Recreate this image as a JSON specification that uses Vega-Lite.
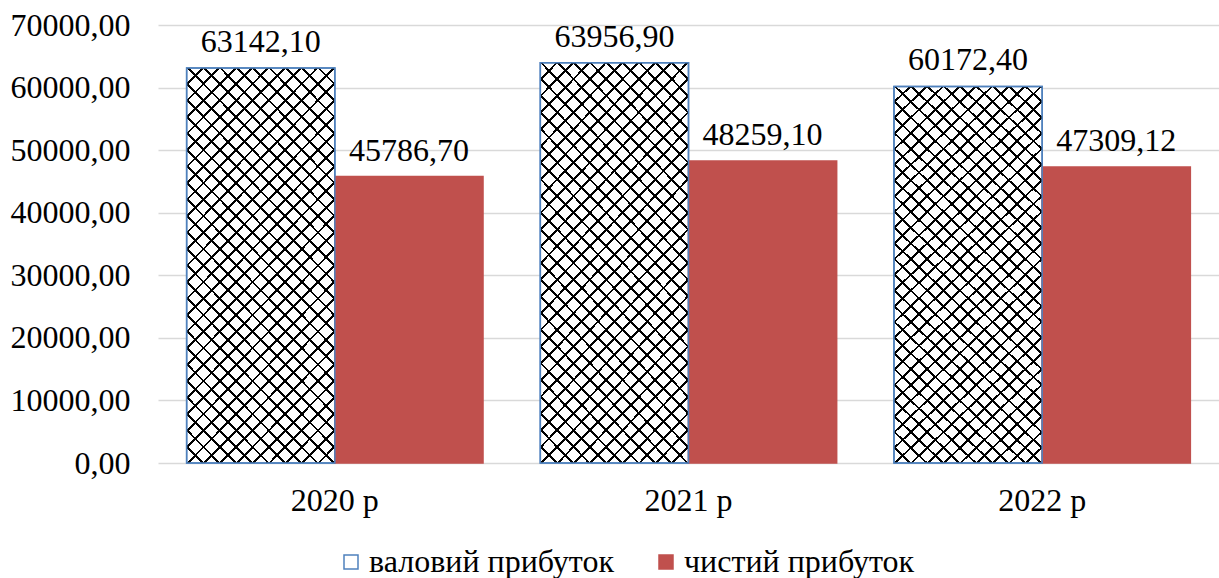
{
  "$schema": "https://vega.github.io/schema/vega-lite/v6.json",
  "width": 1061,
  "height": 438,
  "autosize": {"type": "none"},
  "padding": {"left": 158, "top": 25, "right": 0, "bottom": 115},
  "background": "#ffffff",
  "config": {
    "locale": {"number": {"decimal": ",", "thousands": " ", "grouping": [3], "currency": ["", ""]}},
    "view": {"stroke": null},
    "font": "Liberation Serif",
    "axis": {"labelFont": "Liberation Serif", "labelFontSize": 32, "labelColor": "#000000", "title": null, "domain": false, "ticks": false, "tickSize": 0},
    "legend": {"labelFont": "Liberation Serif", "labelFontSize": 32, "labelColor": "#000000"}
  },
  "data": {
    "values": [
      {"year": "2020 р", "type": "валовий прибуток", "value": 63142.10},
      {"year": "2020 р", "type": "чистий прибуток", "value": 45786.70},
      {"year": "2021 р", "type": "валовий прибуток", "value": 63956.90},
      {"year": "2021 р", "type": "чистий прибуток", "value": 48259.10},
      {"year": "2022 р", "type": "валовий прибуток", "value": 60172.40},
      {"year": "2022 р", "type": "чистий прибуток", "value": 47309.12}
    ]
  },
  "encoding": {
    "x": {
      "field": "year", "type": "nominal",
      "scale": {"domain": ["2020 р", "2021 р", "2022 р"], "paddingInner": 0.162, "paddingOuter": 0.081},
      "axis": {"labelAngle": 0, "labelPadding": 22, "grid": false}
    },
    "xOffset": {
      "field": "type", "type": "nominal",
      "scale": {"domain": ["валовий прибуток", "чистий прибуток"], "paddingInner": 0, "paddingOuter": 0}
    },
    "y": {
      "field": "value", "type": "quantitative",
      "scale": {"domain": [0, 70000], "nice": false},
      "axis": {"values": [0, 10000, 20000, 30000, 40000, 50000, 60000, 70000], "format": ".2f", "grid": true, "gridColor": "#d9d9d9", "gridWidth": 1.5, "labelPadding": 28}
    }
  },
  "layer": [
    {
      "mark": {"type": "bar", "strokeWidth": 1.5},
      "encoding": {
        "color": {
          "field": "type", "type": "nominal",
          "scale": {"domain": ["валовий прибуток", "чистий прибуток"], "range": ["#ffffff", "#C0504D"]},
          "legend": {"title": null, "orient": "none", "legendX": 177, "legendY": 521, "direction": "horizontal", "columns": 2, "columnPadding": 36, "labelOffset": 2, "symbolSize": 196, "symbolType": "square", "symbolStrokeWidth": 1.5, "labelLimit": 400}
        },
        "stroke": {
          "field": "type", "type": "nominal",
          "scale": {"domain": ["валовий прибуток", "чистий прибуток"], "range": ["#4F81BD", "#C0504D"]},
          "legend": {"title": null, "orient": "none", "legendX": 177, "legendY": 521, "direction": "horizontal", "columns": 2, "columnPadding": 36, "labelOffset": 2, "symbolSize": 196, "symbolType": "square", "symbolStrokeWidth": 1.5, "labelLimit": 400}
        }
      }
    },
    {
      "transform": [{"filter": "datum.type === 'валовий прибуток'"}],
      "mark": {"type": "bar", "stroke": null, "fill": {"gradient": "linear", "x1": 0, "y1": 0, "x2": 0.4564, "y2": 1.2058, "stops": [
        {"offset": 0, "color": "#000"}, {"offset": 0.0026, "color": "#000"}, {"offset": 0.0026, "color": "rgba(0,0,0,0)"},
        {"offset": 0.0277, "color": "rgba(0,0,0,0)"}, {"offset": 0.0277, "color": "#000"}, {"offset": 0.0329, "color": "#000"}, {"offset": 0.0329, "color": "rgba(0,0,0,0)"},
        {"offset": 0.0580, "color": "rgba(0,0,0,0)"}, {"offset": 0.0580, "color": "#000"}, {"offset": 0.0632, "color": "#000"}, {"offset": 0.0632, "color": "rgba(0,0,0,0)"},
        {"offset": 0.0883, "color": "rgba(0,0,0,0)"}, {"offset": 0.0883, "color": "#000"}, {"offset": 0.0935, "color": "#000"}, {"offset": 0.0935, "color": "rgba(0,0,0,0)"},
        {"offset": 0.1186, "color": "rgba(0,0,0,0)"}, {"offset": 0.1186, "color": "#000"}, {"offset": 0.1238, "color": "#000"}, {"offset": 0.1238, "color": "rgba(0,0,0,0)"},
        {"offset": 0.1489, "color": "rgba(0,0,0,0)"}, {"offset": 0.1489, "color": "#000"}, {"offset": 0.1541, "color": "#000"}, {"offset": 0.1541, "color": "rgba(0,0,0,0)"},
        {"offset": 0.1792, "color": "rgba(0,0,0,0)"}, {"offset": 0.1792, "color": "#000"}, {"offset": 0.1844, "color": "#000"}, {"offset": 0.1844, "color": "rgba(0,0,0,0)"},
        {"offset": 0.2095, "color": "rgba(0,0,0,0)"}, {"offset": 0.2095, "color": "#000"}, {"offset": 0.2147, "color": "#000"}, {"offset": 0.2147, "color": "rgba(0,0,0,0)"},
        {"offset": 0.2398, "color": "rgba(0,0,0,0)"}, {"offset": 0.2398, "color": "#000"}, {"offset": 0.2450, "color": "#000"}, {"offset": 0.2450, "color": "rgba(0,0,0,0)"},
        {"offset": 0.2701, "color": "rgba(0,0,0,0)"}, {"offset": 0.2701, "color": "#000"}, {"offset": 0.2753, "color": "#000"}, {"offset": 0.2753, "color": "rgba(0,0,0,0)"},
        {"offset": 0.3004, "color": "rgba(0,0,0,0)"}, {"offset": 0.3004, "color": "#000"}, {"offset": 0.3056, "color": "#000"}, {"offset": 0.3056, "color": "rgba(0,0,0,0)"},
        {"offset": 0.3307, "color": "rgba(0,0,0,0)"}, {"offset": 0.3307, "color": "#000"}, {"offset": 0.3359, "color": "#000"}, {"offset": 0.3359, "color": "rgba(0,0,0,0)"},
        {"offset": 0.3610, "color": "rgba(0,0,0,0)"}, {"offset": 0.3610, "color": "#000"}, {"offset": 0.3662, "color": "#000"}, {"offset": 0.3662, "color": "rgba(0,0,0,0)"},
        {"offset": 0.3913, "color": "rgba(0,0,0,0)"}, {"offset": 0.3913, "color": "#000"}, {"offset": 0.3965, "color": "#000"}, {"offset": 0.3965, "color": "rgba(0,0,0,0)"},
        {"offset": 0.4216, "color": "rgba(0,0,0,0)"}, {"offset": 0.4216, "color": "#000"}, {"offset": 0.4268, "color": "#000"}, {"offset": 0.4268, "color": "rgba(0,0,0,0)"},
        {"offset": 0.4519, "color": "rgba(0,0,0,0)"}, {"offset": 0.4519, "color": "#000"}, {"offset": 0.4571, "color": "#000"}, {"offset": 0.4571, "color": "rgba(0,0,0,0)"},
        {"offset": 0.4822, "color": "rgba(0,0,0,0)"}, {"offset": 0.4822, "color": "#000"}, {"offset": 0.4874, "color": "#000"}, {"offset": 0.4874, "color": "rgba(0,0,0,0)"},
        {"offset": 0.5126, "color": "rgba(0,0,0,0)"}, {"offset": 0.5126, "color": "#000"}, {"offset": 0.5178, "color": "#000"}, {"offset": 0.5178, "color": "rgba(0,0,0,0)"},
        {"offset": 0.5429, "color": "rgba(0,0,0,0)"}, {"offset": 0.5429, "color": "#000"}, {"offset": 0.5481, "color": "#000"}, {"offset": 0.5481, "color": "rgba(0,0,0,0)"},
        {"offset": 0.5732, "color": "rgba(0,0,0,0)"}, {"offset": 0.5732, "color": "#000"}, {"offset": 0.5784, "color": "#000"}, {"offset": 0.5784, "color": "rgba(0,0,0,0)"},
        {"offset": 0.6035, "color": "rgba(0,0,0,0)"}, {"offset": 0.6035, "color": "#000"}, {"offset": 0.6087, "color": "#000"}, {"offset": 0.6087, "color": "rgba(0,0,0,0)"},
        {"offset": 0.6338, "color": "rgba(0,0,0,0)"}, {"offset": 0.6338, "color": "#000"}, {"offset": 0.6390, "color": "#000"}, {"offset": 0.6390, "color": "rgba(0,0,0,0)"},
        {"offset": 0.6641, "color": "rgba(0,0,0,0)"}, {"offset": 0.6641, "color": "#000"}, {"offset": 0.6693, "color": "#000"}, {"offset": 0.6693, "color": "rgba(0,0,0,0)"},
        {"offset": 0.6944, "color": "rgba(0,0,0,0)"}, {"offset": 0.6944, "color": "#000"}, {"offset": 0.6996, "color": "#000"}, {"offset": 0.6996, "color": "rgba(0,0,0,0)"},
        {"offset": 0.7247, "color": "rgba(0,0,0,0)"}, {"offset": 0.7247, "color": "#000"}, {"offset": 0.7299, "color": "#000"}, {"offset": 0.7299, "color": "rgba(0,0,0,0)"},
        {"offset": 0.7550, "color": "rgba(0,0,0,0)"}, {"offset": 0.7550, "color": "#000"}, {"offset": 0.7602, "color": "#000"}, {"offset": 0.7602, "color": "rgba(0,0,0,0)"},
        {"offset": 0.7853, "color": "rgba(0,0,0,0)"}, {"offset": 0.7853, "color": "#000"}, {"offset": 0.7905, "color": "#000"}, {"offset": 0.7905, "color": "rgba(0,0,0,0)"},
        {"offset": 0.8156, "color": "rgba(0,0,0,0)"}, {"offset": 0.8156, "color": "#000"}, {"offset": 0.8208, "color": "#000"}, {"offset": 0.8208, "color": "rgba(0,0,0,0)"},
        {"offset": 0.8459, "color": "rgba(0,0,0,0)"}, {"offset": 0.8459, "color": "#000"}, {"offset": 0.8511, "color": "#000"}, {"offset": 0.8511, "color": "rgba(0,0,0,0)"},
        {"offset": 0.8762, "color": "rgba(0,0,0,0)"}, {"offset": 0.8762, "color": "#000"}, {"offset": 0.8814, "color": "#000"}, {"offset": 0.8814, "color": "rgba(0,0,0,0)"},
        {"offset": 0.9065, "color": "rgba(0,0,0,0)"}, {"offset": 0.9065, "color": "#000"}, {"offset": 0.9117, "color": "#000"}, {"offset": 0.9117, "color": "rgba(0,0,0,0)"},
        {"offset": 0.9368, "color": "rgba(0,0,0,0)"}, {"offset": 0.9368, "color": "#000"}, {"offset": 0.9420, "color": "#000"}, {"offset": 0.9420, "color": "rgba(0,0,0,0)"},
        {"offset": 0.9671, "color": "rgba(0,0,0,0)"}, {"offset": 0.9671, "color": "#000"}, {"offset": 0.9723, "color": "#000"}, {"offset": 0.9723, "color": "rgba(0,0,0,0)"},
        {"offset": 0.9974, "color": "rgba(0,0,0,0)"}, {"offset": 0.9974, "color": "#000"}, {"offset": 1, "color": "#000"}
      ]}}
    },
    {
      "transform": [{"filter": "datum.type === 'валовий прибуток'"}],
      "mark": {"type": "bar", "stroke": null, "fill": {"gradient": "linear", "x1": 1, "y1": 0, "x2": 0.5436, "y2": 1.2058, "stops": [
        {"offset": 0, "color": "#000"}, {"offset": 0.0026, "color": "#000"}, {"offset": 0.0026, "color": "rgba(0,0,0,0)"},
        {"offset": 0.0277, "color": "rgba(0,0,0,0)"}, {"offset": 0.0277, "color": "#000"}, {"offset": 0.0329, "color": "#000"}, {"offset": 0.0329, "color": "rgba(0,0,0,0)"},
        {"offset": 0.0580, "color": "rgba(0,0,0,0)"}, {"offset": 0.0580, "color": "#000"}, {"offset": 0.0632, "color": "#000"}, {"offset": 0.0632, "color": "rgba(0,0,0,0)"},
        {"offset": 0.0883, "color": "rgba(0,0,0,0)"}, {"offset": 0.0883, "color": "#000"}, {"offset": 0.0935, "color": "#000"}, {"offset": 0.0935, "color": "rgba(0,0,0,0)"},
        {"offset": 0.1186, "color": "rgba(0,0,0,0)"}, {"offset": 0.1186, "color": "#000"}, {"offset": 0.1238, "color": "#000"}, {"offset": 0.1238, "color": "rgba(0,0,0,0)"},
        {"offset": 0.1489, "color": "rgba(0,0,0,0)"}, {"offset": 0.1489, "color": "#000"}, {"offset": 0.1541, "color": "#000"}, {"offset": 0.1541, "color": "rgba(0,0,0,0)"},
        {"offset": 0.1792, "color": "rgba(0,0,0,0)"}, {"offset": 0.1792, "color": "#000"}, {"offset": 0.1844, "color": "#000"}, {"offset": 0.1844, "color": "rgba(0,0,0,0)"},
        {"offset": 0.2095, "color": "rgba(0,0,0,0)"}, {"offset": 0.2095, "color": "#000"}, {"offset": 0.2147, "color": "#000"}, {"offset": 0.2147, "color": "rgba(0,0,0,0)"},
        {"offset": 0.2398, "color": "rgba(0,0,0,0)"}, {"offset": 0.2398, "color": "#000"}, {"offset": 0.2450, "color": "#000"}, {"offset": 0.2450, "color": "rgba(0,0,0,0)"},
        {"offset": 0.2701, "color": "rgba(0,0,0,0)"}, {"offset": 0.2701, "color": "#000"}, {"offset": 0.2753, "color": "#000"}, {"offset": 0.2753, "color": "rgba(0,0,0,0)"},
        {"offset": 0.3004, "color": "rgba(0,0,0,0)"}, {"offset": 0.3004, "color": "#000"}, {"offset": 0.3056, "color": "#000"}, {"offset": 0.3056, "color": "rgba(0,0,0,0)"},
        {"offset": 0.3307, "color": "rgba(0,0,0,0)"}, {"offset": 0.3307, "color": "#000"}, {"offset": 0.3359, "color": "#000"}, {"offset": 0.3359, "color": "rgba(0,0,0,0)"},
        {"offset": 0.3610, "color": "rgba(0,0,0,0)"}, {"offset": 0.3610, "color": "#000"}, {"offset": 0.3662, "color": "#000"}, {"offset": 0.3662, "color": "rgba(0,0,0,0)"},
        {"offset": 0.3913, "color": "rgba(0,0,0,0)"}, {"offset": 0.3913, "color": "#000"}, {"offset": 0.3965, "color": "#000"}, {"offset": 0.3965, "color": "rgba(0,0,0,0)"},
        {"offset": 0.4216, "color": "rgba(0,0,0,0)"}, {"offset": 0.4216, "color": "#000"}, {"offset": 0.4268, "color": "#000"}, {"offset": 0.4268, "color": "rgba(0,0,0,0)"},
        {"offset": 0.4519, "color": "rgba(0,0,0,0)"}, {"offset": 0.4519, "color": "#000"}, {"offset": 0.4571, "color": "#000"}, {"offset": 0.4571, "color": "rgba(0,0,0,0)"},
        {"offset": 0.4822, "color": "rgba(0,0,0,0)"}, {"offset": 0.4822, "color": "#000"}, {"offset": 0.4874, "color": "#000"}, {"offset": 0.4874, "color": "rgba(0,0,0,0)"},
        {"offset": 0.5126, "color": "rgba(0,0,0,0)"}, {"offset": 0.5126, "color": "#000"}, {"offset": 0.5178, "color": "#000"}, {"offset": 0.5178, "color": "rgba(0,0,0,0)"},
        {"offset": 0.5429, "color": "rgba(0,0,0,0)"}, {"offset": 0.5429, "color": "#000"}, {"offset": 0.5481, "color": "#000"}, {"offset": 0.5481, "color": "rgba(0,0,0,0)"},
        {"offset": 0.5732, "color": "rgba(0,0,0,0)"}, {"offset": 0.5732, "color": "#000"}, {"offset": 0.5784, "color": "#000"}, {"offset": 0.5784, "color": "rgba(0,0,0,0)"},
        {"offset": 0.6035, "color": "rgba(0,0,0,0)"}, {"offset": 0.6035, "color": "#000"}, {"offset": 0.6087, "color": "#000"}, {"offset": 0.6087, "color": "rgba(0,0,0,0)"},
        {"offset": 0.6338, "color": "rgba(0,0,0,0)"}, {"offset": 0.6338, "color": "#000"}, {"offset": 0.6390, "color": "#000"}, {"offset": 0.6390, "color": "rgba(0,0,0,0)"},
        {"offset": 0.6641, "color": "rgba(0,0,0,0)"}, {"offset": 0.6641, "color": "#000"}, {"offset": 0.6693, "color": "#000"}, {"offset": 0.6693, "color": "rgba(0,0,0,0)"},
        {"offset": 0.6944, "color": "rgba(0,0,0,0)"}, {"offset": 0.6944, "color": "#000"}, {"offset": 0.6996, "color": "#000"}, {"offset": 0.6996, "color": "rgba(0,0,0,0)"},
        {"offset": 0.7247, "color": "rgba(0,0,0,0)"}, {"offset": 0.7247, "color": "#000"}, {"offset": 0.7299, "color": "#000"}, {"offset": 0.7299, "color": "rgba(0,0,0,0)"},
        {"offset": 0.7550, "color": "rgba(0,0,0,0)"}, {"offset": 0.7550, "color": "#000"}, {"offset": 0.7602, "color": "#000"}, {"offset": 0.7602, "color": "rgba(0,0,0,0)"},
        {"offset": 0.7853, "color": "rgba(0,0,0,0)"}, {"offset": 0.7853, "color": "#000"}, {"offset": 0.7905, "color": "#000"}, {"offset": 0.7905, "color": "rgba(0,0,0,0)"},
        {"offset": 0.8156, "color": "rgba(0,0,0,0)"}, {"offset": 0.8156, "color": "#000"}, {"offset": 0.8208, "color": "#000"}, {"offset": 0.8208, "color": "rgba(0,0,0,0)"},
        {"offset": 0.8459, "color": "rgba(0,0,0,0)"}, {"offset": 0.8459, "color": "#000"}, {"offset": 0.8511, "color": "#000"}, {"offset": 0.8511, "color": "rgba(0,0,0,0)"},
        {"offset": 0.8762, "color": "rgba(0,0,0,0)"}, {"offset": 0.8762, "color": "#000"}, {"offset": 0.8814, "color": "#000"}, {"offset": 0.8814, "color": "rgba(0,0,0,0)"},
        {"offset": 0.9065, "color": "rgba(0,0,0,0)"}, {"offset": 0.9065, "color": "#000"}, {"offset": 0.9117, "color": "#000"}, {"offset": 0.9117, "color": "rgba(0,0,0,0)"},
        {"offset": 0.9368, "color": "rgba(0,0,0,0)"}, {"offset": 0.9368, "color": "#000"}, {"offset": 0.9420, "color": "#000"}, {"offset": 0.9420, "color": "rgba(0,0,0,0)"},
        {"offset": 0.9671, "color": "rgba(0,0,0,0)"}, {"offset": 0.9671, "color": "#000"}, {"offset": 0.9723, "color": "#000"}, {"offset": 0.9723, "color": "rgba(0,0,0,0)"},
        {"offset": 0.9974, "color": "rgba(0,0,0,0)"}, {"offset": 0.9974, "color": "#000"}, {"offset": 1, "color": "#000"}
      ]}}
    },
    {
      "transform": [{"filter": "datum.type === 'валовий прибуток'"}],
      "mark": {"type": "bar", "fillOpacity": 0, "stroke": "#4F81BD", "strokeWidth": 1.5}
    },
    {
      "mark": {"type": "text", "baseline": "alphabetic", "dy": -16, "fontSize": 32, "font": "Liberation Serif", "color": "#000000"},
      "encoding": {
        "text": {"field": "value", "type": "quantitative", "format": ".2f"}
      }
    }
  ]
}
